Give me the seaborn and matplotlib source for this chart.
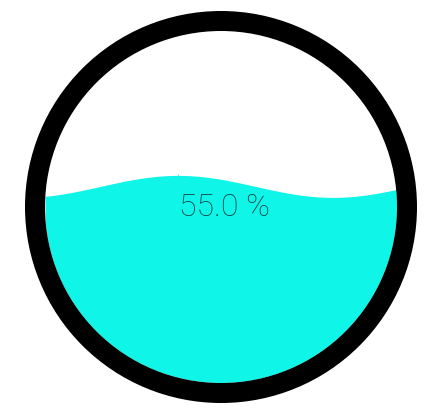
import matplotlib
matplotlib.use("Agg")
import matplotlib.pyplot as plt
import numpy as np
import seaborn as sns
from matplotlib.patches import Circle

sns.set_theme(style="white")

# gauge value (fraction filled)
value = 0.55
label = "55.0 %"

W, H = 442, 416
cx, cy = 221, 207
r_outer = 196
ring = 20
r_inner = r_outer - ring

fig = plt.figure(figsize=(W / 100, H / 100), dpi=100)
ax = fig.add_axes([0, 0, 1, 1])
ax.set_xlim(0, W)
ax.set_ylim(H, 0)
ax.set_aspect("equal")
ax.axis("off")

# wave surface
level = (cy + r_inner) - value * 2 * r_inner - 3
xs = np.linspace(cx - r_inner, cx + r_inner, 400)
ys = level - 11 * np.cos(2 * np.pi * (xs - 178) / 310)
clip = Circle((cx, cy), r_inner, transform=ax.transData)
poly = ax.fill_between(xs, ys, cy + r_inner + 5, color="#0ff5e8", lw=0)
poly.set_clip_path(clip)

ring_patch = Circle((cx, cy), r_outer - ring / 2, fill=False, ec="black", lw=ring * 0.72)
ax.add_patch(ring_patch)

ax.text(224, 208, label, ha="center", va="center", fontsize=23,
        family=["Roboto", "DejaVu Sans"], fontweight="light", color="#123e40")

fig.savefig("out.png", dpi=100)
